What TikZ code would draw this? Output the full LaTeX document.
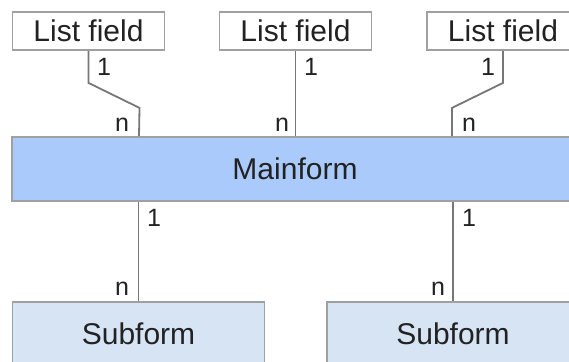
\documentclass[tikz,border=0pt]{standalone}
\usepackage{fontspec}
\setmainfont{Liberation Sans}
\definecolor{mainblue}{HTML}{A9CAFA}
\definecolor{subblue}{HTML}{D6E4F4}
\definecolor{edgegray}{HTML}{A0A0A0}
\definecolor{linkgray}{HTML}{777777}
\definecolor{textgray}{HTML}{222222}
\begin{document}
\begin{tikzpicture}[x=1pt, y=-1pt,
		every node/.style={text=textgray, inner sep=0pt},
		listbox/.style={draw=edgegray, line width=1.8pt, fill=white, minimum width=152pt, minimum height=38pt, font=\fontsize{30}{34}\selectfont},
		formbox/.style={draw=edgegray, line width=1.8pt, minimum height=64pt, font=\fontsize{30}{34}\selectfont},
		card/.style={font=\fontsize{25}{28}\selectfont},
		link/.style={draw=linkgray, line width=1.8pt}]
	\clip (0,0) rectangle (569,361);
	% Boxes
	\node[listbox] (lf1) at (88.5,31) {List field};
	\node[listbox] (lf2) at (295.5,31) {List field};
	\node[listbox] (lf3) at (503,31) {List field};
	\node[formbox, fill=mainblue, minimum width=566pt] (main) at (295,169) {Mainform};
	\node[formbox, fill=subblue, minimum width=252pt] (sub1) at (138.5,334) {Subform};
	\node[formbox, fill=subblue, minimum width=252pt] (sub2) at (453,334) {Subform};
	% Upper links
	\draw[link] (lf1.south) -- ++(0,32) -- ++(51,25) -- ([xshift=-156pt]main.north);
	\draw[link] (lf2.south) -- (lf2.south |- main.north);
	\draw[link] (lf3.south) -- ++(0,32) -- ++(-51,25) -- ([xshift=157pt]main.north);
	\node[card] (one1) at (104,67) {1};
	\node[card] (one2) at (311,67) {1};
	\node[card] (one3) at (488,67) {1};
	\node[card] (n1) at (122,125) {n};
	\node[card] (n2) at (282,125) {n};
	\node[card] (n3) at (469,125) {n};
	% Lower links
	\draw[link] (sub1.north |- main.south) -- (sub1.north);
	\draw[link] (sub2.north |- main.south) -- (sub2.north);
	\node[card] (one4) at (154,218) {1};
	\node[card] (one5) at (469,218) {1};
	\node[card] (n4) at (122,289) {n};
	\node[card] (n5) at (438,289) {n};
\end{tikzpicture}
\end{document}
